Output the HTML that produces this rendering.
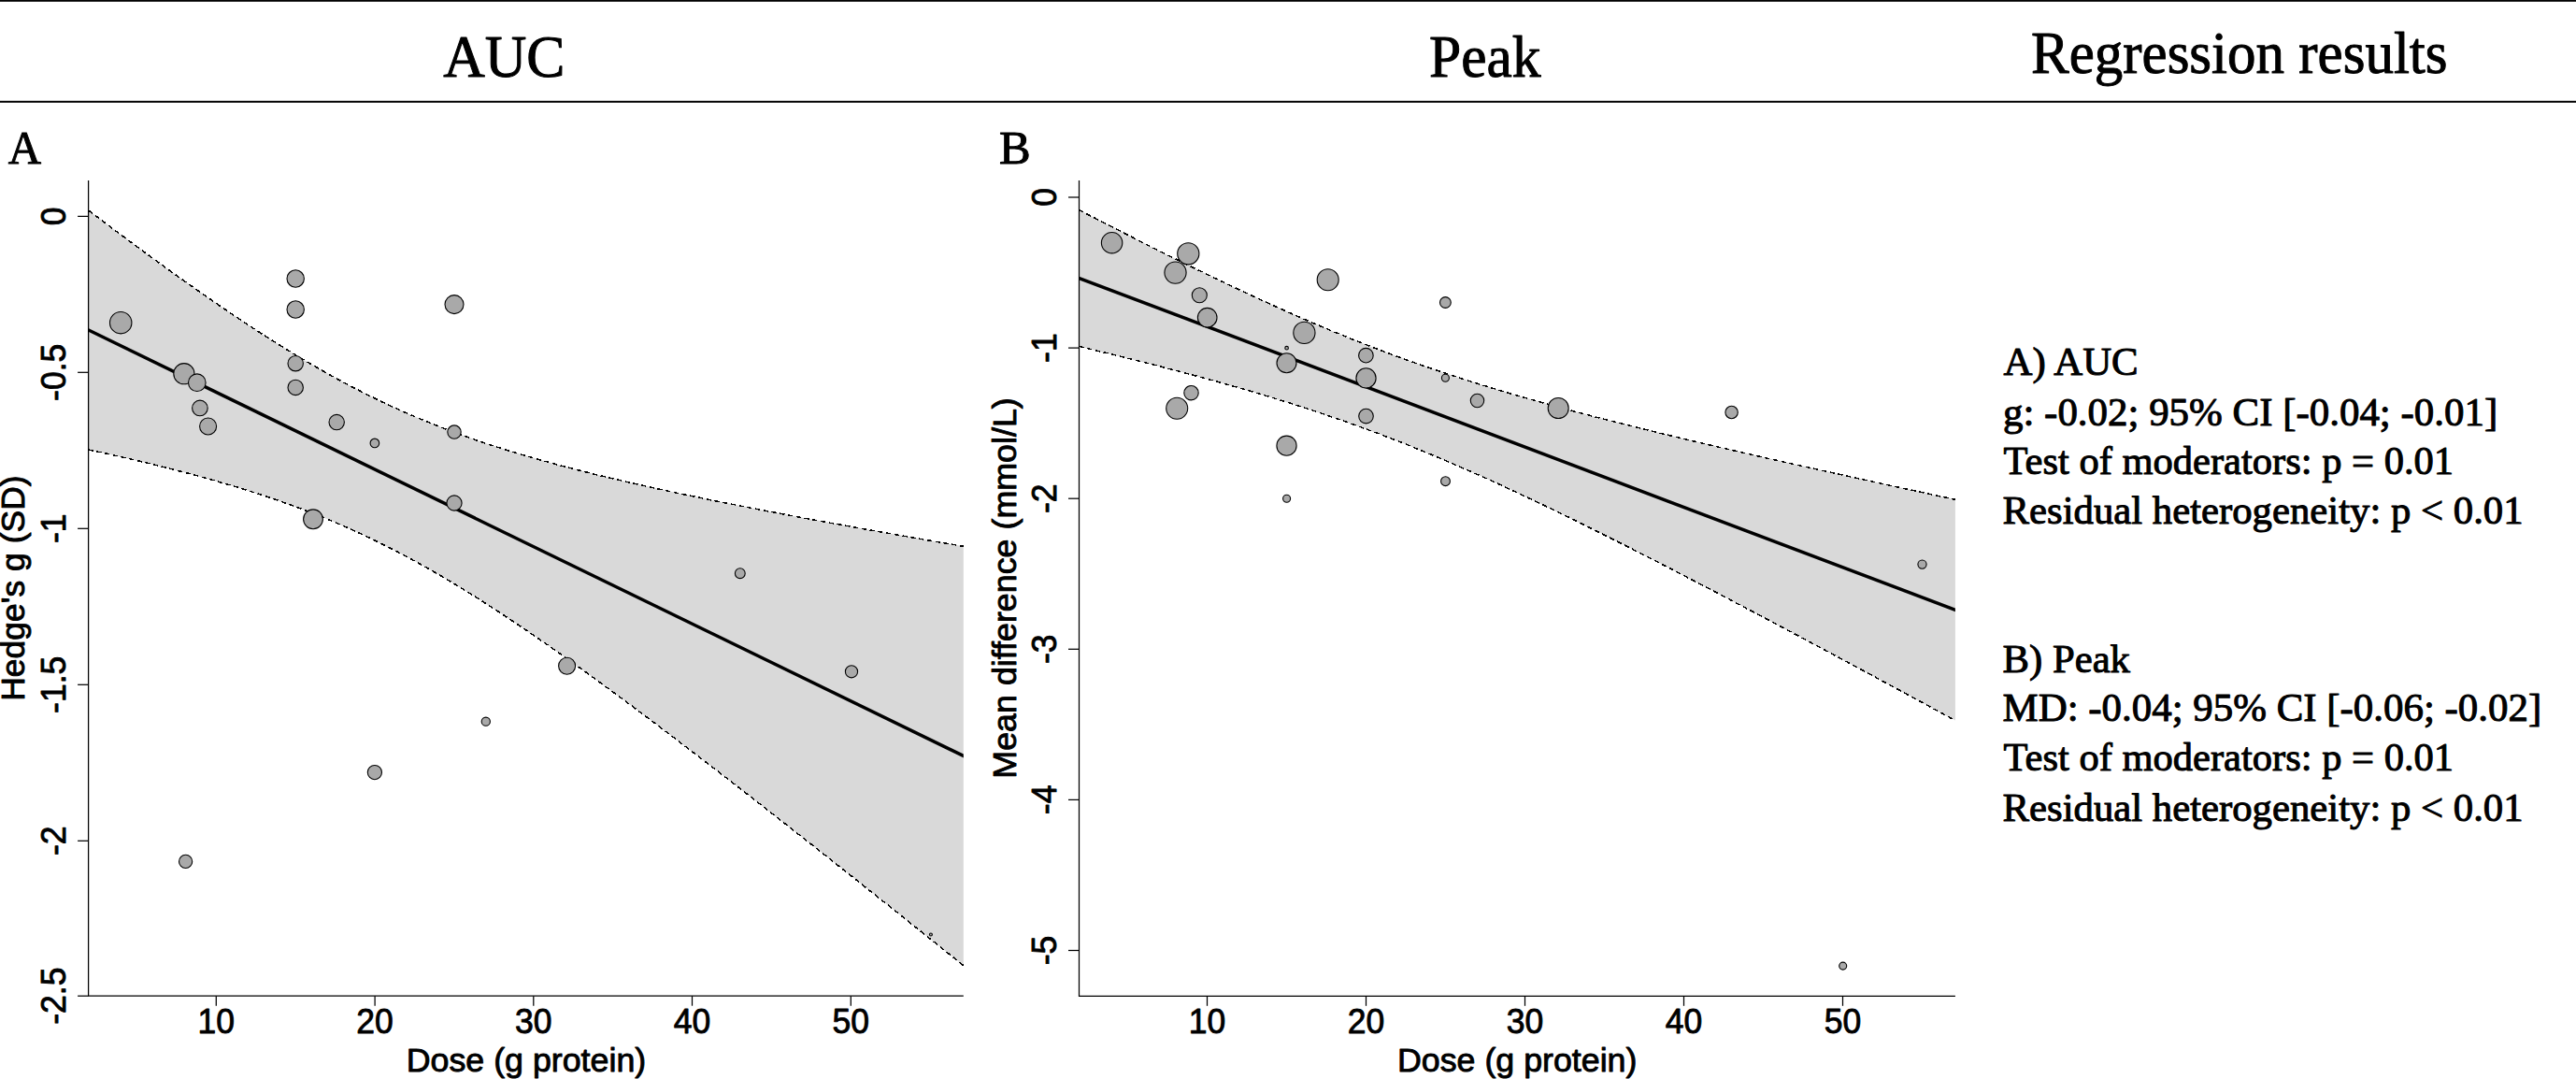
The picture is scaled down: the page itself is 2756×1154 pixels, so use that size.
<!DOCTYPE html>
<html lang="en"><head><meta charset="utf-8"><title>Meta-regression: AUC and Peak</title>
<style>
html,body{margin:0;padding:0;background:#fff;}
svg{display:block;}
.serif{font-family:"Liberation Serif", "Times New Roman", Times, serif;fill:#000;stroke:#000;stroke-width:1px;stroke-linejoin:round;}
.sans{font-family:"Liberation Sans", Arial, Helvetica, sans-serif;fill:#000;stroke:#000;stroke-width:0.9px;stroke-linejoin:round;}
.ax{stroke:#000;stroke-width:1.25;fill:none;}
.pt{fill:#a9a9a9;stroke:#000;stroke-width:1.1;}
.band{fill:#d9d9d9;stroke:none;}
.ci{fill:none;stroke:#000;stroke-width:1.5;stroke-dasharray:5.3 3.6;shape-rendering:crispEdges;}
.reg{fill:none;stroke:#000;stroke-width:3.5;}
</style></head><body>
<svg width="2756" height="1154" viewBox="0 0 2756 1154">
<rect x="0" y="0" width="2756" height="1154" fill="#fff"/>

<rect x="0" y="0" width="2756" height="1.8" fill="#000"/>
<rect x="0" y="107.8" width="2756" height="2" fill="#000"/>
<text id="h1" class="serif" x="474.20" y="81.7" font-size="62.5" textLength="130.23" lengthAdjust="spacingAndGlyphs">AUC</text>
<text id="h2" class="serif" x="1529.02" y="81.7" font-size="62.5" textLength="119.49" lengthAdjust="spacingAndGlyphs">Peak</text>
<text id="h3" class="serif" x="2173.02" y="77.8" font-size="62.5" textLength="445.49" lengthAdjust="spacingAndGlyphs">Regression results</text>
<text id="la" class="serif" x="8.80" y="174.6" font-size="50" textLength="35.31" lengthAdjust="spacingAndGlyphs">A</text>
<text id="lb" class="serif" x="1068.99" y="174.6" font-size="50" textLength="33.69" lengthAdjust="spacingAndGlyphs">B</text>
<text id="a1" class="serif" x="2143.60" y="401.2" font-size="42.4" textLength="144.12" lengthAdjust="spacingAndGlyphs">A) AUC</text>
<text id="a2" class="serif" x="2142.99" y="454.7" font-size="42.4" textLength="529.20" lengthAdjust="spacingAndGlyphs">g: -0.02; 95% CI [-0.04; -0.01]</text>
<text id="a3" class="serif" x="2143.60" y="507.1" font-size="42.4" textLength="481.50" lengthAdjust="spacingAndGlyphs">Test of moderators: p = 0.01</text>
<text id="a4" class="serif" x="2142.59" y="560.4" font-size="42.4" textLength="557.02" lengthAdjust="spacingAndGlyphs">Residual heterogeneity: p &lt; 0.01</text>
<text id="b1" class="serif" x="2142.59" y="718.6" font-size="42.4" textLength="136.39" lengthAdjust="spacingAndGlyphs">B) Peak</text>
<text id="b2" class="serif" x="2142.59" y="771.4" font-size="42.4" textLength="576.59" lengthAdjust="spacingAndGlyphs">MD: -0.04; 95% CI [-0.06; -0.02]</text>
<text id="b3" class="serif" x="2143.60" y="824.0" font-size="42.4" textLength="481.50" lengthAdjust="spacingAndGlyphs">Test of moderators: p = 0.01</text>
<text id="b4" class="serif" x="2142.59" y="877.6" font-size="42.4" textLength="557.02" lengthAdjust="spacingAndGlyphs">Residual heterogeneity: p &lt; 0.01</text>
<polygon class="band" points="94.6,225.0 106.5,233.9 118.3,242.8 130.2,251.7 142.0,260.5 153.9,269.2 165.7,277.9 177.6,286.5 189.4,295.0 201.3,303.4 213.1,311.8 225.0,320.0 236.8,328.2 248.7,336.3 260.5,344.2 272.4,352.0 284.2,359.7 296.1,367.2 307.9,374.6 319.8,381.8 331.6,388.8 343.5,395.6 355.3,402.3 367.2,408.8 379.0,415.0 390.9,421.1 402.7,426.9 414.6,432.6 426.4,438.0 438.3,443.3 450.1,448.3 462.0,453.1 473.8,457.8 485.7,462.3 497.5,466.6 509.4,470.7 521.2,474.7 533.1,478.5 544.9,482.2 556.8,485.8 568.6,489.3 580.5,492.6 592.3,495.9 604.2,499.1 616.0,502.1 627.9,505.1 639.7,508.1 651.6,510.9 663.4,513.7 675.3,516.4 687.1,519.1 699.0,521.8 710.8,524.3 722.7,526.9 734.5,529.4 746.4,531.8 758.2,534.3 770.1,536.7 781.9,539.0 793.8,541.4 805.6,543.7 817.5,546.0 829.3,548.2 841.2,550.5 853.0,552.7 864.9,554.9 876.7,557.1 888.6,559.3 900.4,561.4 912.3,563.6 924.1,565.7 936.0,567.8 947.8,569.9 959.7,572.0 971.5,574.1 983.4,576.2 995.2,578.2 1007.1,580.3 1018.9,582.3 1030.8,584.3 1030.8,1032.6 1018.9,1023.1 1007.1,1013.6 995.2,1004.1 983.4,994.7 971.5,985.2 959.7,975.7 947.8,966.3 936.0,956.9 924.1,947.5 912.3,938.0 900.4,928.7 888.6,919.3 876.7,909.9 864.9,900.6 853.0,891.3 841.2,881.9 829.3,872.7 817.5,863.4 805.6,854.1 793.8,844.9 781.9,835.7 770.1,826.6 758.2,817.4 746.4,808.3 734.5,799.3 722.7,790.2 710.8,781.2 699.0,772.3 687.1,763.4 675.3,754.5 663.4,745.7 651.6,737.0 639.7,728.3 627.9,719.7 616.0,711.2 604.2,702.7 592.3,694.3 580.5,686.1 568.6,677.9 556.8,669.8 544.9,661.9 533.1,654.0 521.2,646.4 509.4,638.8 497.5,631.4 485.7,624.2 473.8,617.1 462.0,610.2 450.1,603.6 438.3,597.1 426.4,590.8 414.6,584.7 402.7,578.8 390.9,573.1 379.0,567.6 367.2,562.4 355.3,557.3 343.5,552.4 331.6,547.7 319.8,543.2 307.9,538.9 296.1,534.8 284.2,530.7 272.4,526.9 260.5,523.1 248.7,519.5 236.8,516.1 225.0,512.7 213.1,509.4 201.3,506.2 189.4,503.2 177.6,500.1 165.7,497.2 153.9,494.3 142.0,491.5 130.2,488.8 118.3,486.1 106.5,483.5 94.6,480.9"/>
<polyline class="ci" points="94.6,225.0 106.5,233.9 118.3,242.8 130.2,251.7 142.0,260.5 153.9,269.2 165.7,277.9 177.6,286.5 189.4,295.0 201.3,303.4 213.1,311.8 225.0,320.0 236.8,328.2 248.7,336.3 260.5,344.2 272.4,352.0 284.2,359.7 296.1,367.2 307.9,374.6 319.8,381.8 331.6,388.8 343.5,395.6 355.3,402.3 367.2,408.8 379.0,415.0 390.9,421.1 402.7,426.9 414.6,432.6 426.4,438.0 438.3,443.3 450.1,448.3 462.0,453.1 473.8,457.8 485.7,462.3 497.5,466.6 509.4,470.7 521.2,474.7 533.1,478.5 544.9,482.2 556.8,485.8 568.6,489.3 580.5,492.6 592.3,495.9 604.2,499.1 616.0,502.1 627.9,505.1 639.7,508.1 651.6,510.9 663.4,513.7 675.3,516.4 687.1,519.1 699.0,521.8 710.8,524.3 722.7,526.9 734.5,529.4 746.4,531.8 758.2,534.3 770.1,536.7 781.9,539.0 793.8,541.4 805.6,543.7 817.5,546.0 829.3,548.2 841.2,550.5 853.0,552.7 864.9,554.9 876.7,557.1 888.6,559.3 900.4,561.4 912.3,563.6 924.1,565.7 936.0,567.8 947.8,569.9 959.7,572.0 971.5,574.1 983.4,576.2 995.2,578.2 1007.1,580.3 1018.9,582.3 1030.8,584.3"/>
<polyline class="ci" points="94.6,480.9 106.5,483.5 118.3,486.1 130.2,488.8 142.0,491.5 153.9,494.3 165.7,497.2 177.6,500.1 189.4,503.2 201.3,506.2 213.1,509.4 225.0,512.7 236.8,516.1 248.7,519.5 260.5,523.1 272.4,526.9 284.2,530.7 296.1,534.8 307.9,538.9 319.8,543.2 331.6,547.7 343.5,552.4 355.3,557.3 367.2,562.4 379.0,567.6 390.9,573.1 402.7,578.8 414.6,584.7 426.4,590.8 438.3,597.1 450.1,603.6 462.0,610.2 473.8,617.1 485.7,624.2 497.5,631.4 509.4,638.8 521.2,646.4 533.1,654.0 544.9,661.9 556.8,669.8 568.6,677.9 580.5,686.1 592.3,694.3 604.2,702.7 616.0,711.2 627.9,719.7 639.7,728.3 651.6,737.0 663.4,745.7 675.3,754.5 687.1,763.4 699.0,772.3 710.8,781.2 722.7,790.2 734.5,799.3 746.4,808.3 758.2,817.4 770.1,826.6 781.9,835.7 793.8,844.9 805.6,854.1 817.5,863.4 829.3,872.7 841.2,881.9 853.0,891.3 864.9,900.6 876.7,909.9 888.6,919.3 900.4,928.7 912.3,938.0 924.1,947.5 936.0,956.9 947.8,966.3 959.7,975.7 971.5,985.2 983.4,994.7 995.2,1004.1 1007.1,1013.6 1018.9,1023.1 1030.8,1032.6"/>
<clipPath id="clipxa"><rect x="94.6" y="193" width="936.2" height="872.2"/></clipPath>
<line class="reg" clip-path="url(#clipxa)" x1="84.6" y1="348.1" x2="1040.8" y2="813.3"/>
<circle class="pt" cx="129.2" cy="345.2" r="11.7"/>
<circle class="pt" cx="196.9" cy="399.7" r="11.1"/>
<circle class="pt" cx="210.8" cy="409.2" r="9.3"/>
<circle class="pt" cx="213.9" cy="436.4" r="8.3"/>
<circle class="pt" cx="222.6" cy="456.0" r="9.0"/>
<circle class="pt" cx="316.2" cy="298.0" r="9.2"/>
<circle class="pt" cx="316.2" cy="331.0" r="9.2"/>
<circle class="pt" cx="316.2" cy="388.7" r="8.2"/>
<circle class="pt" cx="316.2" cy="414.4" r="8.2"/>
<circle class="pt" cx="360.2" cy="451.6" r="8.2"/>
<circle class="pt" cx="400.9" cy="473.9" r="4.8"/>
<circle class="pt" cx="486.0" cy="325.6" r="10.0"/>
<circle class="pt" cx="486.0" cy="462.1" r="7.2"/>
<circle class="pt" cx="486.0" cy="538.0" r="8.1"/>
<circle class="pt" cx="335.0" cy="555.3" r="10.4"/>
<circle class="pt" cx="400.9" cy="826.1" r="7.6"/>
<circle class="pt" cx="198.6" cy="921.4" r="7.1"/>
<circle class="pt" cx="519.8" cy="771.7" r="4.6"/>
<circle class="pt" cx="606.6" cy="712.2" r="9.0"/>
<circle class="pt" cx="791.8" cy="613.2" r="5.4"/>
<circle class="pt" cx="911.0" cy="718.3" r="6.6"/>
<circle class="pt" cx="995.9" cy="999.5" r="1.5"/>
<path class="ax" d="M94.6 193V1065.2H1030.8"/>
<path class="ax" d="M83.1 231.4H94.6"/>
<text class="sans" font-size="37.2" text-anchor="middle" transform="translate(69.7,231.4) rotate(-90) scale(0.955,1)">0</text>
<path class="ax" d="M83.1 398.3H94.6"/>
<text class="sans" font-size="37.2" text-anchor="middle" transform="translate(69.7,398.3) rotate(-90) scale(0.955,1)">-0.5</text>
<path class="ax" d="M83.1 565.3H94.6"/>
<text class="sans" font-size="37.2" text-anchor="middle" transform="translate(69.7,565.3) rotate(-90) scale(0.955,1)">-1</text>
<path class="ax" d="M83.1 732.3H94.6"/>
<text class="sans" font-size="37.2" text-anchor="middle" transform="translate(69.7,732.3) rotate(-90) scale(0.955,1)">-1.5</text>
<path class="ax" d="M83.1 899.3H94.6"/>
<text class="sans" font-size="37.2" text-anchor="middle" transform="translate(69.7,899.3) rotate(-90) scale(0.955,1)">-2</text>
<path class="ax" d="M83.1 1065.2H94.6"/>
<text class="sans" font-size="37.2" text-anchor="middle" transform="translate(69.7,1065.2) rotate(-90) scale(0.955,1)">-2.5</text>
<path class="ax" d="M231.3 1065.2V1075.7"/>
<text class="sans" font-size="37.2" text-anchor="middle" transform="translate(231.3,1104.7) scale(0.955,1)">10</text>
<path class="ax" d="M401.1 1065.2V1075.7"/>
<text class="sans" font-size="37.2" text-anchor="middle" transform="translate(401.1,1104.7) scale(0.955,1)">20</text>
<path class="ax" d="M570.8 1065.2V1075.7"/>
<text class="sans" font-size="37.2" text-anchor="middle" transform="translate(570.8,1104.7) scale(0.955,1)">30</text>
<path class="ax" d="M740.5 1065.2V1075.7"/>
<text class="sans" font-size="37.2" text-anchor="middle" transform="translate(740.5,1104.7) scale(0.955,1)">40</text>
<path class="ax" d="M910.3 1065.2V1075.7"/>
<text class="sans" font-size="37.2" text-anchor="middle" transform="translate(910.3,1104.7) scale(0.955,1)">50</text>
<text id="xa" class="sans" x="434.77" y="1146.1" font-size="35.3" textLength="256.43" lengthAdjust="spacingAndGlyphs">Dose (g protein)</text>
<text id="ya" class="sans" x="-2.41" y="0" font-size="35.3" textLength="241.41" lengthAdjust="spacingAndGlyphs" transform="translate(26.0,747.4) rotate(-90)">Hedge's g (SD)</text>
<polygon class="band" points="1154.5,224.5 1166.4,230.7 1178.2,236.8 1190.1,242.9 1202.0,248.9 1213.8,255.0 1225.7,261.0 1237.6,266.9 1249.4,272.9 1261.3,278.7 1273.2,284.6 1285.0,290.4 1296.9,296.1 1308.8,301.8 1320.6,307.4 1332.5,313.0 1344.4,318.5 1356.2,324.0 1368.1,329.3 1380.0,334.6 1391.8,339.8 1403.7,345.0 1415.5,350.0 1427.4,355.0 1439.3,359.8 1451.1,364.6 1463.0,369.2 1474.9,373.8 1486.7,378.3 1498.6,382.6 1510.5,386.9 1522.3,391.1 1534.2,395.1 1546.1,399.1 1557.9,403.0 1569.8,406.8 1581.7,410.6 1593.5,414.2 1605.4,417.8 1617.3,421.3 1629.1,424.7 1641.0,428.1 1652.9,431.4 1664.7,434.7 1676.6,437.9 1688.5,441.1 1700.3,444.2 1712.2,447.3 1724.1,450.3 1735.9,453.3 1747.8,456.3 1759.7,459.2 1771.5,462.1 1783.4,465.0 1795.3,467.9 1807.1,470.7 1819.0,473.5 1830.9,476.3 1842.7,479.1 1854.6,481.8 1866.4,484.5 1878.3,487.3 1890.2,490.0 1902.0,492.6 1913.9,495.3 1925.8,498.0 1937.6,500.6 1949.5,503.3 1961.4,505.9 1973.2,508.5 1985.1,511.1 1997.0,513.7 2008.8,516.3 2020.7,518.9 2032.6,521.5 2044.4,524.0 2056.3,526.6 2068.2,529.2 2080.0,531.7 2091.9,534.3 2091.9,770.6 2080.0,764.1 2068.2,757.7 2056.3,751.2 2044.4,744.8 2032.6,738.4 2020.7,732.0 2008.8,725.6 1997.0,719.2 1985.1,712.8 1973.2,706.4 1961.4,700.1 1949.5,693.7 1937.6,687.4 1925.8,681.0 1913.9,674.7 1902.0,668.4 1890.2,662.1 1878.3,655.8 1866.4,649.6 1854.6,643.3 1842.7,637.1 1830.9,630.8 1819.0,624.7 1807.1,618.5 1795.3,612.3 1783.4,606.2 1771.5,600.1 1759.7,594.0 1747.8,588.0 1735.9,581.9 1724.1,576.0 1712.2,570.0 1700.3,564.1 1688.5,558.2 1676.6,552.4 1664.7,546.7 1652.9,540.9 1641.0,535.3 1629.1,529.7 1617.3,524.1 1605.4,518.6 1593.5,513.2 1581.7,507.9 1569.8,502.6 1557.9,497.5 1546.1,492.4 1534.2,487.4 1522.3,482.5 1510.5,477.7 1498.6,472.9 1486.7,468.3 1474.9,463.8 1463.0,459.4 1451.1,455.1 1439.3,450.8 1427.4,446.7 1415.5,442.7 1403.7,438.7 1391.8,434.9 1380.0,431.1 1368.1,427.4 1356.2,423.8 1344.4,420.3 1332.5,416.8 1320.6,413.4 1308.8,410.0 1296.9,406.7 1285.0,403.5 1273.2,400.3 1261.3,397.1 1249.4,394.0 1237.6,391.0 1225.7,388.0 1213.8,385.0 1202.0,382.0 1190.1,379.1 1178.2,376.2 1166.4,373.3 1154.5,370.5"/>
<polyline class="ci" points="1154.5,224.5 1166.4,230.7 1178.2,236.8 1190.1,242.9 1202.0,248.9 1213.8,255.0 1225.7,261.0 1237.6,266.9 1249.4,272.9 1261.3,278.7 1273.2,284.6 1285.0,290.4 1296.9,296.1 1308.8,301.8 1320.6,307.4 1332.5,313.0 1344.4,318.5 1356.2,324.0 1368.1,329.3 1380.0,334.6 1391.8,339.8 1403.7,345.0 1415.5,350.0 1427.4,355.0 1439.3,359.8 1451.1,364.6 1463.0,369.2 1474.9,373.8 1486.7,378.3 1498.6,382.6 1510.5,386.9 1522.3,391.1 1534.2,395.1 1546.1,399.1 1557.9,403.0 1569.8,406.8 1581.7,410.6 1593.5,414.2 1605.4,417.8 1617.3,421.3 1629.1,424.7 1641.0,428.1 1652.9,431.4 1664.7,434.7 1676.6,437.9 1688.5,441.1 1700.3,444.2 1712.2,447.3 1724.1,450.3 1735.9,453.3 1747.8,456.3 1759.7,459.2 1771.5,462.1 1783.4,465.0 1795.3,467.9 1807.1,470.7 1819.0,473.5 1830.9,476.3 1842.7,479.1 1854.6,481.8 1866.4,484.5 1878.3,487.3 1890.2,490.0 1902.0,492.6 1913.9,495.3 1925.8,498.0 1937.6,500.6 1949.5,503.3 1961.4,505.9 1973.2,508.5 1985.1,511.1 1997.0,513.7 2008.8,516.3 2020.7,518.9 2032.6,521.5 2044.4,524.0 2056.3,526.6 2068.2,529.2 2080.0,531.7 2091.9,534.3"/>
<polyline class="ci" points="1154.5,370.5 1166.4,373.3 1178.2,376.2 1190.1,379.1 1202.0,382.0 1213.8,385.0 1225.7,388.0 1237.6,391.0 1249.4,394.0 1261.3,397.1 1273.2,400.3 1285.0,403.5 1296.9,406.7 1308.8,410.0 1320.6,413.4 1332.5,416.8 1344.4,420.3 1356.2,423.8 1368.1,427.4 1380.0,431.1 1391.8,434.9 1403.7,438.7 1415.5,442.7 1427.4,446.7 1439.3,450.8 1451.1,455.1 1463.0,459.4 1474.9,463.8 1486.7,468.3 1498.6,472.9 1510.5,477.7 1522.3,482.5 1534.2,487.4 1546.1,492.4 1557.9,497.5 1569.8,502.6 1581.7,507.9 1593.5,513.2 1605.4,518.6 1617.3,524.1 1629.1,529.7 1641.0,535.3 1652.9,540.9 1664.7,546.7 1676.6,552.4 1688.5,558.2 1700.3,564.1 1712.2,570.0 1724.1,576.0 1735.9,581.9 1747.8,588.0 1759.7,594.0 1771.5,600.1 1783.4,606.2 1795.3,612.3 1807.1,618.5 1819.0,624.7 1830.9,630.8 1842.7,637.1 1854.6,643.3 1866.4,649.6 1878.3,655.8 1890.2,662.1 1902.0,668.4 1913.9,674.7 1925.8,681.0 1937.6,687.4 1949.5,693.7 1961.4,700.1 1973.2,706.4 1985.1,712.8 1997.0,719.2 2008.8,725.6 2020.7,732.0 2032.6,738.4 2044.4,744.8 2056.3,751.2 2068.2,757.7 2080.0,764.1 2091.9,770.6"/>
<clipPath id="clipxb"><rect x="1154.5" y="193" width="937.4" height="872.3"/></clipPath>
<line class="reg" clip-path="url(#clipxb)" x1="1144.5" y1="293.7" x2="2101.9" y2="656.2"/>
<circle class="pt" cx="1189.6" cy="259.7" r="11.2"/>
<circle class="pt" cx="1271.3" cy="271.3" r="11.6"/>
<circle class="pt" cx="1257.5" cy="291.6" r="11.6"/>
<circle class="pt" cx="1283.3" cy="315.7" r="8.0"/>
<circle class="pt" cx="1291.7" cy="339.7" r="10.3"/>
<circle class="pt" cx="1420.7" cy="299.2" r="11.5"/>
<circle class="pt" cx="1395.4" cy="355.9" r="11.6"/>
<circle class="pt" cx="1376.6" cy="372.2" r="1.8"/>
<circle class="pt" cx="1376.5" cy="388.2" r="10.5"/>
<circle class="pt" cx="1461.4" cy="380.2" r="7.8"/>
<circle class="pt" cx="1461.5" cy="404.4" r="10.6"/>
<circle class="pt" cx="1461.5" cy="445.1" r="7.8"/>
<circle class="pt" cx="1546.4" cy="323.5" r="5.9"/>
<circle class="pt" cx="1546.4" cy="404.2" r="4.0"/>
<circle class="pt" cx="1546.5" cy="514.7" r="4.9"/>
<circle class="pt" cx="1580.5" cy="428.5" r="7.2"/>
<circle class="pt" cx="1274.5" cy="420.2" r="7.7"/>
<circle class="pt" cx="1259.2" cy="436.7" r="11.5"/>
<circle class="pt" cx="1376.5" cy="476.7" r="10.6"/>
<circle class="pt" cx="1376.6" cy="533.2" r="4.0"/>
<circle class="pt" cx="1667.2" cy="436.5" r="11.0"/>
<circle class="pt" cx="1852.6" cy="441.0" r="6.7"/>
<circle class="pt" cx="2056.5" cy="603.6" r="4.6"/>
<circle class="pt" cx="1971.7" cy="1033.1" r="4.0"/>
<path class="ax" d="M1154.5 193V1065.3H2091.9"/>
<path class="ax" d="M1143.0 211.0H1154.5"/>
<text class="sans" font-size="37.2" text-anchor="middle" transform="translate(1129.6,211.0) rotate(-90) scale(0.955,1)">0</text>
<path class="ax" d="M1143.0 372.1H1154.5"/>
<text class="sans" font-size="37.2" text-anchor="middle" transform="translate(1129.6,372.1) rotate(-90) scale(0.955,1)">-1</text>
<path class="ax" d="M1143.0 533.2H1154.5"/>
<text class="sans" font-size="37.2" text-anchor="middle" transform="translate(1129.6,533.2) rotate(-90) scale(0.955,1)">-2</text>
<path class="ax" d="M1143.0 694.3H1154.5"/>
<text class="sans" font-size="37.2" text-anchor="middle" transform="translate(1129.6,694.3) rotate(-90) scale(0.955,1)">-3</text>
<path class="ax" d="M1143.0 855.4H1154.5"/>
<text class="sans" font-size="37.2" text-anchor="middle" transform="translate(1129.6,855.4) rotate(-90) scale(0.955,1)">-4</text>
<path class="ax" d="M1143.0 1016.5H1154.5"/>
<text class="sans" font-size="37.2" text-anchor="middle" transform="translate(1129.6,1016.5) rotate(-90) scale(0.955,1)">-5</text>
<path class="ax" d="M1291.5 1065.3V1075.8"/>
<text class="sans" font-size="37.2" text-anchor="middle" transform="translate(1291.5,1104.7) scale(0.955,1)">10</text>
<path class="ax" d="M1461.5 1065.3V1075.8"/>
<text class="sans" font-size="37.2" text-anchor="middle" transform="translate(1461.5,1104.7) scale(0.955,1)">20</text>
<path class="ax" d="M1631.5 1065.3V1075.8"/>
<text class="sans" font-size="37.2" text-anchor="middle" transform="translate(1631.5,1104.7) scale(0.955,1)">30</text>
<path class="ax" d="M1801.5 1065.3V1075.8"/>
<text class="sans" font-size="37.2" text-anchor="middle" transform="translate(1801.5,1104.7) scale(0.955,1)">40</text>
<path class="ax" d="M1971.5 1065.3V1075.8"/>
<text class="sans" font-size="37.2" text-anchor="middle" transform="translate(1971.5,1104.7) scale(0.955,1)">50</text>
<text id="xb" class="sans" x="1494.97" y="1146.1" font-size="35.3" textLength="256.43" lengthAdjust="spacingAndGlyphs">Dose (g protein)</text>
<text id="yb" class="sans" x="-2.84" y="0" font-size="35.3" textLength="407.38" lengthAdjust="spacingAndGlyphs" transform="translate(1086.6,829.8) rotate(-90)">Mean difference (mmol/L)</text>
</svg></body></html>
